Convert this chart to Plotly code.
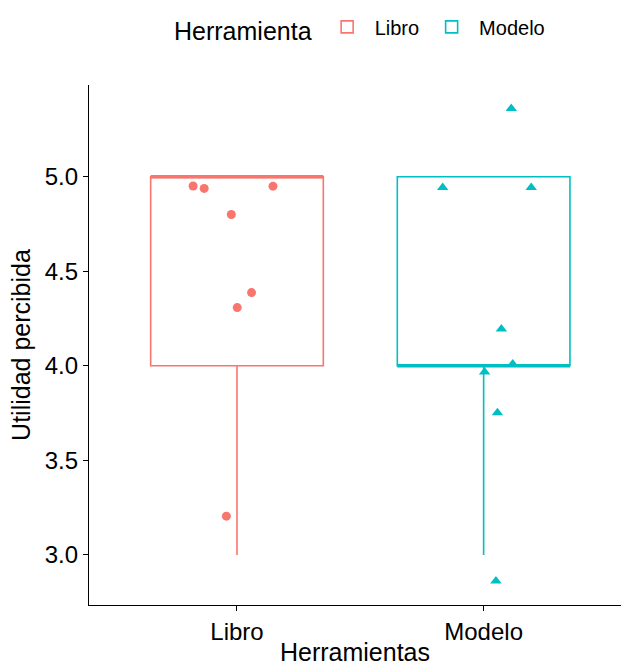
import plotly.graph_objects as go

# ---- data ----
groups = ["Libro", "Modelo"]
group_pos = [1, 2]
colors = ["#F8766D", "#00BFC4"]
symbols = ["circle", "triangle-up"]

# box statistics (Q1, median, Q3, whisker ends)
q1 = [4.0, 4.0]
median = [5.0, 4.0]
q3 = [5.0, 5.0]
lower_fence = [3.0, 3.0]
upper_fence = [5.0, 5.0]

# jittered observations (x = jittered category position, y = value)
libro_x = [0.822, 0.867, 1.146, 0.977, 1.059, 1.001, 0.957]
libro_y = [4.951, 4.938, 4.950, 4.800, 4.387, 4.308, 3.205]
modelo_x = [2.112, 1.834, 2.193, 2.072, 2.118, 2.004, 2.056, 2.050]
modelo_y = [5.361, 4.943, 4.943, 4.195, 4.010, 3.967, 3.752, 2.862]

points_x = [libro_x, modelo_x]
points_y = [libro_y, modelo_y]

box_width = 0.7

fig = go.Figure()

for i, g in enumerate(groups):
    fig.add_trace(go.Box(
        x=[group_pos[i]],
        q1=[q1[i]], median=[median[i]], q3=[q3[i]],
        lowerfence=[lower_fence[i]], upperfence=[upper_fence[i]],
        width=box_width,
        boxpoints=False,
        name=g,
        legendgroup=g,
        line=dict(color=colors[i], width=1.6),
        fillcolor="rgba(255,255,255,0)",
        whiskerwidth=0,
        hoverinfo="skip",
    ))
    # thicker median line
    fig.add_trace(go.Scatter(
        x=[group_pos[i] - box_width / 2, group_pos[i] + box_width / 2],
        y=[median[i], median[i]],
        mode="lines",
        line=dict(color=colors[i], width=3.2),
        showlegend=False,
        legendgroup=g,
        hoverinfo="skip",
    ))
    fig.add_trace(go.Scatter(
        x=points_x[i], y=points_y[i],
        mode="markers",
        marker=dict(color=colors[i], symbol=symbols[i], size=9 if i == 0 else 10,
                    line=dict(width=0)),
        showlegend=False,
        legendgroup=g,
    ))

axis_font = dict(family="Liberation Sans, Arial, sans-serif", size=24, color="black")

fig.update_layout(
    width=621, height=666,
    margin=dict(l=89, r=0, t=85, b=61, autoexpand=False),
    paper_bgcolor="white",
    plot_bgcolor="white",
    font=dict(family="Liberation Sans, Arial, sans-serif", color="black"),
    showlegend=True,
    legend=dict(
        orientation="h",
        x=0.156, xanchor="left",
        y=1.108, yanchor="middle",
        title=dict(text="Herramienta", font=dict(size=25), side="left"),
        font=dict(size=20),
        itemwidth=45,
    ),
    xaxis=dict(
        range=[0.4, 2.557],
        tickmode="array", tickvals=group_pos, ticktext=groups,
        showgrid=False, zeroline=False,
        showline=True, linecolor="black", linewidth=1.4,
        ticks="outside", ticklen=5, tickwidth=1.4, tickcolor="black",
        tickfont=axis_font,
        title=dict(text="Herramientas", font=dict(size=25), standoff=5),
    ),
    yaxis=dict(
        range=[2.735, 5.485],
        tickmode="array", tickvals=[3.0, 3.5, 4.0, 4.5, 5.0],
        ticktext=["3.0", "3.5", "4.0", "4.5", "5.0"],
        showgrid=False, zeroline=False,
        showline=True, linecolor="black", linewidth=1.4,
        ticks="outside", ticklen=5, tickwidth=1.4, tickcolor="black",
        tickfont=axis_font,
        title=dict(text="Utilidad percibida", font=dict(size=25), standoff=6),
    ),
)

fig.write_html("out.html", config={"displayModeBar": False},
               post_script="document.body.style.margin='0';")
